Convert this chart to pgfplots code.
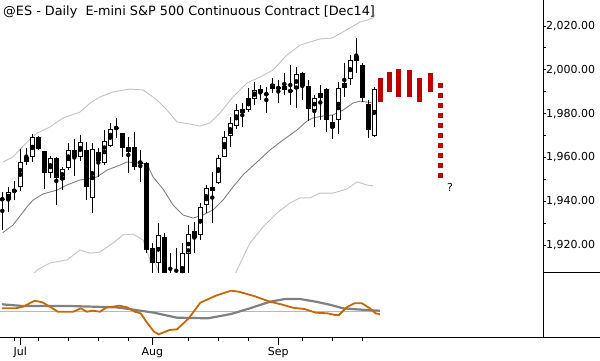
\documentclass[border=0pt]{standalone}
\usepackage{pgfplots}
\pgfplotsset{compat=1.18}
\usepackage{pgfplotstable}
\usepackage{fontspec}
\setmainfont{DejaVu Sans}
\definecolor{bandgray}{RGB}{195,195,195}
\definecolor{magray}{RGB}{128,128,128}
\definecolor{projred}{RGB}{192,0,0}
\definecolor{oscorange}{RGB}{204,102,0}
\definecolor{zerogray}{RGB}{185,185,185}

\pgfplotstableread{
i O H L C
0 1940.9 1944.3 1926.9 1940.9
1 1940.5 1946.5 1935.1 1944.2
2 1944.7 1949.2 1940.5 1944.7
3 1946.5 1963.8 1944.7 1957.9
4 1957.9 1964.3 1956.5 1960.2
5 1960.2 1970.7 1957.9 1969.3
6 1969.3 1969.8 1963.4 1963.8
7 1962.9 1963.0 1945.6 1952.9
8 1952.9 1960.6 1950.6 1959.7
9 1959.7 1960.2 1938.3 1950.6
10 1949.7 1955.6 1945.1 1954.7
11 1955.2 1966.6 1954.2 1963.4
12 1963.4 1968.4 1951.5 1960.2
13 1960.2 1970.2 1958.4 1967.0
14 1963.4 1967.0 1940.5 1946.5
15 1941.5 1966.6 1934.6 1963.8
16 1962.5 1964.3 1951.0 1958.4
17 1957.4 1972.5 1956.5 1967.5
18 1965.2 1975.7 1964.8 1973.0
19 1973.4 1978.0 1968.9 1973.4
20 1971.1 1971.2 1960.2 1964.3
21 1962.5 1969.3 1952.9 1964.8
22 1964.8 1971.6 1954.2 1955.6
23 1957.9 1963.4 1948.8 1957.4
24 1957.4 1957.9 1916.3 1917.7
25 1918.6 1920.9 1906.0 1911.8
26 1911.8 1930.0 1906.0 1924.5
27 1923.6 1925.5 1904.0 1906.0
28 1906.0 1916.3 1902.0 1905.0
29 1905.0 1918.6 1898.0 1900.0
30 1900.0 1920.9 1898.0 1916.3
31 1915.9 1929.1 1906.0 1925.0
32 1926.4 1930.5 1916.3 1923.2
33 1924.5 1939.2 1922.3 1937.4
34 1938.3 1947.4 1934.6 1946.0
35 1946.5 1953.3 1930.0 1944.7
36 1948.3 1961.1 1948.0 1959.7
37 1960.2 1972.1 1960.0 1969.3
38 1969.8 1978.4 1964.8 1975.7
39 1974.3 1984.4 1973.0 1981.6
40 1982.1 1984.8 1973.9 1980.3
41 1981.6 1991.7 1980.7 1987.1
42 1986.7 1994.4 1983.9 1990.8
43 1991.2 1993.1 1986.2 1989.4
44 1988.9 1992.2 1980.3 1988.9
45 1991.2 1996.3 1989.4 1993.5
46 1991.7 1995.4 1984.8 1991.7
47 1992.6 1998.5 1988.5 1990.8
48 1990.8 2002.2 1983.9 1989.9
49 1991.2 2001.3 1982.5 1998.1
50 1998.5 1999.0 1986.2 1992.6
51 1992.6 1995.4 1976.6 1982.1
52 1981.6 1988.5 1973.9 1987.1
53 1987.1 1993.1 1977.1 1989.4
54 1991.2 1991.7 1971.6 1977.1
55 1973.4 1979.4 1968.4 1976.2
56 1977.1 1994.4 1970.7 1991.7
57 1991.7 2003.1 1987.6 1994.0
58 1995.8 2006.8 1993.1 2004.5
59 2006.3 2014.5 1998.5 2004.0
60 2002.2 2003.1 1985.3 1987.1
61 1984.4 1986.2 1968.9 1972.5
62 1969.8 1992.2 1969.3 1991.2
}\candles

\begin{document}
\begin{tikzpicture}
\useasboundingbox (0pt,0pt) rectangle (600pt,360pt);
\begin{axis}[at={(0pt,88pt)}, anchor=south west, scale only axis,
  width=543pt, height=272pt,
  xmin=-0.3833, xmax=90.117, ymin=1907.67, ymax=2031.87,
  axis x line=none, axis y line*=right, y axis line style={draw=none},
  ytick={1920,1940,1960,1980,2000,2020},
  yticklabels={{1,920.00},{1,940.00},{1,960.00},{1,980.00},{2,000.00},{2,020.00}},
  minor ytick={1930,1950,1970,1990,2010},
  tick align=outside, major tick length=3pt, minor tick length=3pt,
  tick style={black, line width=0.8pt},
  yticklabel style={anchor=west, inner sep=0pt, font=\fontsize{11}{13}\selectfont},
  clip=true]
% Bollinger bands
\addplot[bandgray, line width=0.9pt] coordinates {
(0.12,1957.9) (1.78,1960.2) (4.12,1967.0) (5.78,1971.1) (7.95,1973.9) (10.12,1978.0)
(12.95,1980.7) (14.62,1984.8) (16.28,1987.6) (18.45,1989.9) (21.28,1991.2) (23.45,1990.8)
(25.12,1987.6) (25.78,1986.2) (27.45,1981.6) (29.12,1976.2) (31.28,1975.2) (32.95,1974.3)
(34.62,1975.7) (36.28,1980.3) (38.45,1987.6) (40.78,1994.0) (42.95,1996.7) (45.12,1999.9)
(47.45,2006.8) (49.62,2011.3) (51.28,2012.7) (52.95,2014.1) (54.95,2014.5) (56.78,2017.3)
(59.62,2021.8) (60.78,2022.7) (61.78,2023.7) (62.12,2025.0)};
\addplot[bandgray, line width=0.9pt] coordinates {
(4.0,1903.0) (5.78,1908.6) (7.95,1911.8) (10.78,1913.2) (12.95,1917.7) (14.62,1916.3)
(16.28,1916.8) (18.45,1920.9) (20.12,1924.6) (21.78,1925.0) (23.45,1922.3) (24.62,1913.2)
(25.45,1911.8) (26.5,1905.0) (28,1898.0) (32,1893.0) (36,1897.0) (38.2,1903.0)
(39.12,1908.6) (41.28,1920.9) (43.45,1928.2) (45.78,1934.6) (47.95,1939.2) (49.62,1941.5)
(51.28,1941.5) (52.95,1943.7) (55.12,1943.7) (57.45,1945.6) (59.12,1948.8) (60.78,1947.4)
(61.78,1947.0)};
% moving average
\addplot[magray, line width=0.9pt] coordinates {
(0.07,1925.6) (1.78,1929.1) (4.12,1937.4) (5.12,1940.5) (6.78,1943.3) (9.12,1945.1)
(10.78,1947.4) (12.95,1949.7) (14.12,1950.1) (15.78,1951.1) (17.45,1954.2) (19.62,1956.5)
(20.78,1957.9) (22.95,1957.4) (24.12,1957.0) (25.12,1951.1) (26.78,1945.6) (28.45,1938.3)
(30.12,1933.7) (31.78,1932.3) (33.45,1933.7) (35.12,1936.0) (36.78,1940.5) (38.45,1946.5)
(40.12,1952.0) (42.45,1957.9) (44.62,1963.4) (46.78,1967.9) (49.12,1972.5) (50.78,1976.6)
(51.78,1978.0) (53.45,1978.9) (55.12,1979.4) (56.78,1981.6) (58.45,1984.8) (59.62,1985.7)
(60.78,1985.3) (61.78,1984.8)};
% wicks
\addplot[forget plot, only marks, mark=none,
  error bars/.cd, y dir=both, y explicit, error mark=none,
  error bar style={line width=1pt, black}]
  table[x=i, y expr={(\thisrow{H}+\thisrow{L})/2}, y error expr={(\thisrow{H}-\thisrow{L})/2}] {\candles};
% bodies (outer)
\addplot[forget plot, only marks, mark=none,
  error bars/.cd, y dir=both, y explicit, error mark=none,
  error bar style={line width=5pt, black}]
  table[x=i, y expr={(\thisrow{O}+\thisrow{C})/2}, y error expr={max(abs(\thisrow{O}-\thisrow{C})/2,0.23)}] {\candles};
% white bodies (inner)
\addplot[forget plot, only marks, mark=none,
  error bars/.cd, y dir=both, y explicit, error mark=none,
  error bar style={line width=3pt, white}]
  table[x=i, y expr={(\thisrow{O}+\thisrow{C})/2}, y error expr={max(\thisrow{C}-\thisrow{O}-0.913,0)/2}] {\candles};
% projection bars
\addplot[projred, line width=5pt] coordinates {(63.1,1985.3) (63.1,1996.3)};
\addplot[projred, line width=5pt] coordinates {(64.6,1989.9) (64.6,1999.0)};
\addplot[projred, line width=5pt] coordinates {(66.1,1987.6) (66.1,2000.4)};
\addplot[projred, line width=5pt] coordinates {(67.8,1987.6) (67.8,1999.9)};
\addplot[projred, line width=5pt] coordinates {(69.6,1985.3) (69.6,1996.3)};
\addplot[projred, line width=5pt] coordinates {(71.3,1989.9) (71.3,1998.5)};
\addplot[projred, line width=5pt, dash pattern=on 5pt off 5pt] coordinates {(73.0,1994.0) (73.0,1950.6)};
\end{axis}

\begin{axis}[at={(0pt,23pt)}, anchor=south west, scale only axis,
  width=543pt, height=65pt,
  xmin=-0.3833, xmax=90.117, ymin=0, ymax=65,
  axis y line=none, axis x line*=bottom, x axis line style={draw=none},
  xtick={3,25,46}, xticklabels={Jul,Aug,Sep},
  minor xtick={2,6,11,16,21,31,36,41,50,55,60},
  tick align=outside, major tick length=8pt, minor tick length=4pt,
  tick style={black, line width=0.8pt},
  xticklabel style={anchor=north, inner sep=0pt, yshift=-2pt, font=\fontsize{11}{13}\selectfont},
  clip=true]
\addplot[zerogray, line width=0.9pt] coordinates {(-0.38,26) (62.95,26)};
\addplot[magray, line width=2.2pt] coordinates {
(-0.07,32.7) (3.45,31) (11.12,31) (18.88,29.7) (21.45,27.7) (25.28,24.3) (29.12,19.3)
(34.28,18.7) (38.12,23) (41.28,28.7) (44.62,35.3) (47.12,38) (49.62,38) (52.28,35.3)
(54.78,32) (56.78,28.7) (60.62,27) (62.95,26.3)};
\addplot[oscorange, line width=1.8pt] coordinates {
(-0.05,28.7) (2.18,28.7) (3.45,30.3) (5.4,36.3) (6.68,34.7) (7.95,30.3) (9.25,25.3)
(11.82,25.3) (13.1,28.7) (14.07,25.3) (15.02,26.3) (16.28,25.3) (17.28,29.3) (19.52,31.3)
(20.78,29.7) (22.08,25.3) (23.05,23.7) (24.02,15.3) (25.28,5.3) (26.07,2.7) (27.87,7)
(29.12,7.7) (31.07,18.7) (33.0,34.3) (35.57,41.3) (38.12,46.3) (39.42,45.3) (41.95,41)
(44.62,35.3) (46.45,32.7) (48.42,29.3) (50.33,28) (52.27,24.3) (54.18,23.7) (55.45,22)
(56.12,22) (57.4,29.7) (58.68,33.7) (59.95,33.7) (61.25,28.7) (62.22,23.7) (62.95,22.7)};
\end{axis}

\draw[line width=0.8pt] (0pt,23pt) -- (600pt,23pt);
\draw[line width=0.8pt] (543pt,23pt) -- (543pt,360pt);
\draw[line width=0.8pt] (543pt,88pt) -- (600pt,88pt);
\node[anchor=base west, inner sep=0pt, font=\fontsize{12.8}{15}\selectfont] at (3pt,345pt) {@ES - Daily\ \ E-mini S\&P 500 Continuous Contract [Dec14]};
\node[inner sep=0pt, font=\fontsize{11}{13}\selectfont] at (450pt,173pt) {?};
\end{tikzpicture}
\end{document}
